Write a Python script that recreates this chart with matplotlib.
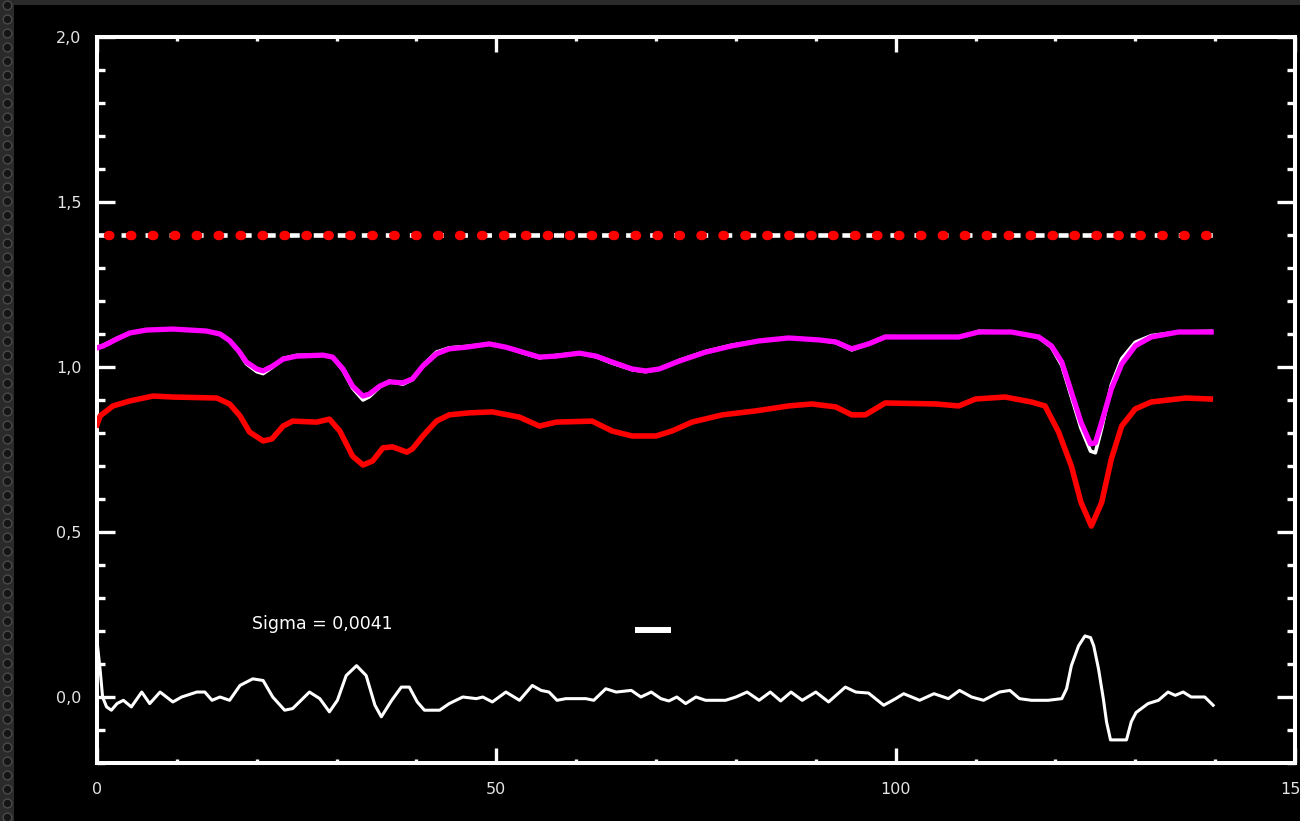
import numpy as np
import matplotlib
matplotlib.use("Agg")
import matplotlib.pyplot as plt
from matplotlib.patches import Rectangle
from matplotlib.ticker import MultipleLocator, FuncFormatter

plt.rcParams["lines.scale_dashes"] = False

# ── profile data (wavelength index vs normalised intensity) ──────────────────
fit_x = [0.0, 0.8, 2.5, 4.1, 6.2, 9.5, 13.7, 15.4, 16.6, 17.7, 18.7, 20.0,
         20.8, 22.0, 23.3, 25.0, 28.3, 29.5, 30.8, 32.0, 33.3, 34.1, 35.4,
         36.6, 38.3, 39.5, 40.8, 42.5, 44.1, 46.2, 49.1, 51.2, 53.3, 55.4,
         57.5, 60.4, 62.5, 64.5, 67.0, 68.7, 70.4, 72.9, 76.2, 79.5, 82.9,
         86.6, 90.4, 92.5, 94.5, 96.6, 98.7, 102.9, 107.9, 110.4, 114.5,
         117.9, 119.5, 120.8, 122.0, 123.2, 124.4, 125.0, 125.8, 127.0,
         128.3, 130.0, 132.0, 135.4, 139.5]
fit_y = [1.058, 1.064, 1.085, 1.103, 1.112, 1.115, 1.109, 1.100, 1.080,
         1.050, 1.015, 0.994, 0.988, 1.003, 1.024, 1.033, 1.036, 1.030,
         0.994, 0.942, 0.912, 0.918, 0.942, 0.955, 0.952, 0.964, 1.003,
         1.040, 1.055, 1.060, 1.070, 1.060, 1.045, 1.030, 1.033, 1.042,
         1.033, 1.015, 0.994, 0.988, 0.994, 1.018, 1.045, 1.064, 1.079,
         1.088, 1.082, 1.076, 1.055, 1.070, 1.091, 1.091, 1.091, 1.106,
         1.106, 1.091, 1.064, 1.015, 0.924, 0.833, 0.767, 0.770, 0.833,
         0.933, 1.009, 1.064, 1.091, 1.106, 1.106]
obs_y = [1.058, 1.066, 1.087, 1.103, 1.112, 1.115, 1.109, 1.100, 1.080,
         1.048, 1.010, 0.986, 0.980, 1.000, 1.026, 1.035, 1.036, 1.030,
         0.990, 0.936, 0.900, 0.910, 0.940, 0.957, 0.948, 0.962, 1.005,
         1.045, 1.058, 1.062, 1.070, 1.060, 1.043, 1.028, 1.035, 1.042,
         1.031, 1.012, 0.992, 0.986, 0.994, 1.020, 1.047, 1.066, 1.079,
         1.088, 1.082, 1.074, 1.052, 1.070, 1.092, 1.091, 1.090, 1.108,
         1.106, 1.090, 1.060, 1.005, 0.910, 0.815, 0.745, 0.740, 0.815,
         0.945, 1.025, 1.075, 1.095, 1.106, 1.108]

red_x = [0.0, 0.4, 2.0, 4.1, 7.0, 9.5, 15.0, 16.6, 17.9, 19.1, 20.8, 21.9,
         23.3, 24.5, 27.5, 29.1, 30.4, 32.0, 33.3, 34.5, 35.8, 37.0, 38.8,
         39.5, 40.8, 42.5, 44.1, 46.6, 49.5, 52.9, 55.4, 57.5, 62.0, 64.5,
         67.0, 70.0, 72.0, 74.5, 78.3, 82.5, 86.6, 89.5, 92.5, 94.5, 96.2,
         98.7, 105.0, 107.9, 110.0, 113.7, 117.0, 118.7, 120.4, 122.0,
         123.2, 124.5, 125.8, 127.0, 128.3, 130.0, 132.0, 136.3, 139.4]
red_y = [0.825, 0.852, 0.882, 0.897, 0.912, 0.909, 0.906, 0.888, 0.852,
         0.803, 0.776, 0.782, 0.821, 0.836, 0.833, 0.842, 0.806, 0.730,
         0.703, 0.715, 0.755, 0.758, 0.742, 0.752, 0.791, 0.836, 0.855,
         0.861, 0.864, 0.848, 0.821, 0.833, 0.836, 0.806, 0.791, 0.791,
         0.806, 0.833, 0.855, 0.867, 0.882, 0.888, 0.879, 0.855, 0.855,
         0.891, 0.888, 0.882, 0.903, 0.909, 0.894, 0.882, 0.803, 0.700,
         0.590, 0.518, 0.590, 0.721, 0.821, 0.873, 0.894, 0.906, 0.903]

resid_x = [0.0, 0.4, 0.7, 1.2, 1.8, 2.5, 3.3, 4.3, 5.6, 6.6, 7.9, 9.5, 10.6,
           12.5, 13.5, 14.4, 15.4, 16.6, 17.9, 19.5, 20.8, 22.0, 23.5, 24.5,
           26.6, 27.9, 29.1, 30.1, 31.2, 32.5, 33.7, 34.8, 35.6, 36.9, 38.1,
           39.1, 40.1, 41.0, 42.9, 44.1, 45.8, 47.5, 48.3, 49.5, 51.2, 52.9,
           54.5, 55.6, 56.6, 57.6, 58.7, 61.2, 62.2, 63.7, 65.0, 66.9, 68.1,
           69.4, 70.6, 71.6, 72.6, 73.7, 75.0, 76.2, 78.7, 80.0, 81.4, 82.9,
           84.3, 85.6, 86.9, 88.3, 90.0, 91.6, 93.7, 95.0, 96.6, 98.5, 100.0,
           101.0, 103.0, 104.8, 106.6, 108.0, 109.5, 111.0, 113.0, 114.3,
           115.5, 117.0, 119.1, 120.8, 121.4, 122.0, 122.9, 123.7, 124.4,
           124.8, 125.4, 126.0, 126.4, 126.9, 128.9, 129.5, 130.1, 131.6,
           132.9, 134.1, 135.0, 136.0, 137.0, 138.7, 139.75]
resid_y = [0.170, 0.080, 0.000, -0.030, -0.040, -0.020, -0.010, -0.030,
           0.015, -0.020, 0.015, -0.015, 0.000, 0.015, 0.015, -0.010, 0.000,
           -0.010, 0.035, 0.055, 0.050, 0.000, -0.040, -0.035, 0.015, -0.005,
           -0.045, -0.010, 0.065, 0.095, 0.065, -0.025, -0.060, -0.010,
           0.030, 0.030, -0.015, -0.040, -0.040, -0.020, 0.000, -0.005,
           0.000, -0.015, 0.015, -0.010, 0.035, 0.020, 0.015, -0.010, -0.005,
           -0.005, -0.010, 0.025, 0.015, 0.020, 0.000, 0.015, -0.005, -0.012,
           0.000, -0.020, 0.000, -0.010, -0.010, 0.000, 0.015, -0.010, 0.015,
           -0.012, 0.015, -0.010, 0.015, -0.015, 0.030, 0.015, 0.012, -0.025,
           -0.005, 0.010, -0.010, 0.010, -0.005, 0.020, 0.000, -0.010, 0.015,
           0.020, -0.005, -0.010, -0.010, -0.005, 0.025, 0.095, 0.155, 0.185,
           0.180, 0.155, 0.085, -0.005, -0.075, -0.130, -0.130, -0.075,
           -0.047, -0.020, -0.010, 0.015, 0.005, 0.015, 0.000, 0.000, -0.025]

cont_x = [0.0, 140.0]
cont_level = 1.4
bar_x = [67.3, 71.9]
bar_level = 0.203
sigma_label = "Sigma = 0,0041"

# ── figure & frame ────────────────────────────────────────────────────────────
W, H = 1300, 821
fig = plt.figure(figsize=(W / 100, H / 100), dpi=100, facecolor="#2a2a2a")
fig.patches.append(Rectangle((14 / W, 0), 1, 1 - 5 / H, transform=fig.transFigure,
                             facecolor="black", edgecolor="none", zorder=-1))

# textured strip down the left edge
ax_b = fig.add_axes([0, 0, 14 / W, 1])
ax_b.set_xlim(0, 14)
ax_b.set_ylim(0, H)
ax_b.set_axis_off()
ring_y = np.arange(4, H, 14)
ax_b.scatter(np.full(len(ring_y), 7), ring_y, s=40, facecolor="#151515",
             edgecolor="#4a4a4a", linewidth=1.0)

ax = fig.add_axes([97 / W, 1 - 763 / H, (1295 - 97) / W, (763 - 37) / H])
ax.set_facecolor("black")
ax.set_xlim(0, 150)
ax.set_ylim(-0.2, 2.0)

for s in ax.spines.values():
    s.set_color("white")
    s.set_linewidth(2.9)

ax.xaxis.set_major_locator(MultipleLocator(50))
ax.xaxis.set_minor_locator(MultipleLocator(10))
ax.yaxis.set_major_locator(MultipleLocator(0.5))
ax.yaxis.set_minor_locator(MultipleLocator(0.1))
ax.xaxis.set_major_formatter(FuncFormatter(lambda v, p: f"{v:.0f}"))
ax.yaxis.set_major_formatter(FuncFormatter(lambda v, p: f"{v:.1f}".replace(".", ",")))

ax.tick_params(which="both", direction="in", color="white", width=2.4,
               top=True, right=True, labelcolor="#e4e4e4", labelsize=11.5)
ax.tick_params(axis="y", which="major", length=13, pad=11)
ax.tick_params(axis="y", which="minor", length=6)
ax.tick_params(axis="x", which="major", length=11, pad=14)
ax.tick_params(axis="x", which="minor", length=3)

# ── continuum level ───────────────────────────────────────────────────────────
ax.plot(cont_x, [cont_level] * 2, color="white", lw=3.3,
        linestyle=(0, (7.2, 10.1)), dash_capstyle="butt", zorder=3)
ax.plot(cont_x, [cont_level] * 2, color="#ff0000", lw=6.8,
        linestyle=(7.9, (1.0, 14.8)), dash_capstyle="round", zorder=4)

# ── profiles ──────────────────────────────────────────────────────────────────
ax.plot(fit_x, obs_y, color="white", lw=2.6, zorder=5)
ax.plot(fit_x, fit_y, color="#ff00ff", lw=3.8, zorder=6)
ax.plot(red_x, red_y, color="#ff0000", lw=4.0, zorder=6)
ax.plot(resid_x, resid_y, color="white", lw=2.2, zorder=5)

ax.plot(bar_x, [bar_level] * 2, color="white", lw=4.3, solid_capstyle="butt")
ax.text(19.4, 0.221, sigma_label, color="white", fontsize=12.5, va="center")

fig.savefig("out.png", dpi=100, facecolor=fig.get_facecolor())
